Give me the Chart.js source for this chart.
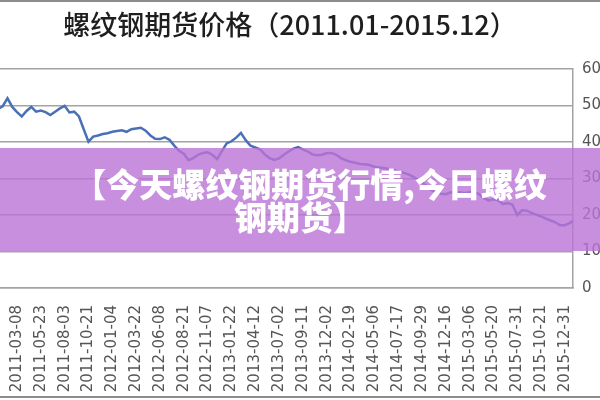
<!DOCTYPE html>
<html>
<head>
<meta charset="utf-8">
<script src="https://cdn.jsdelivr.net/npm/chart.js@4.4.1/dist/chart.umd.min.js"></script>
<style>
  html, body { margin: 0; padding: 0; background: #fff; }
  #wrap { width: 600px; height: 400px; }
</style>
</head>
<body>
<div id="wrap"><canvas id="priceChart" width="600" height="400"></canvas></div>
<script>
let chartTitle = '螺纹钢期货价格（2011.01-2015.12）';
let bannerLines = ['【今天螺纹钢期货行情,今日螺纹', '钢期货】'];

// date labels under the axis, one every ~50 trading days
let tickLabels = [
  '2011-03-08', '2011-05-23', '2011-08-03', '2011-10-21', '2012-01-04', '2012-03-22',
  '2012-06-08', '2012-08-21', '2012-11-07', '2013-01-22', '2013-04-12', '2013-07-02',
  '2013-09-11', '2013-12-02', '2014-02-19', '2014-05-06', '2014-07-17', '2014-09-29',
  '2014-12-16', '2015-03-06', '2015-05-20', '2015-07-31', '2015-10-21', '2015-12-31'
];
let daysPerTick = 50;

// closing price, one reading every ~10 trading days, starting 40 days before the first label
let daysPerPoint = 10;
let firstPointDay = -40;
let prices = [
  4900, 4980, 5200, 4960, 4820, 4700, 4850, 4960, 4830, 4860,
  4820, 4740, 4830, 4920, 4990, 4810, 4830, 4700, 4350, 4010,
  4150, 4180, 4220, 4240, 4280, 4300, 4320, 4280, 4350, 4370,
  4390, 4310, 4180, 4090, 4080, 4130, 4060, 3900, 3760, 3680,
  3500, 3560, 3650, 3700, 3720, 3650, 3530, 3750, 3960, 4020,
  4120, 4250, 4050, 3900, 3850, 3800, 3660, 3560, 3510, 3550,
  3650, 3740, 3820, 3860, 3800, 3740, 3660, 3640, 3650, 3690,
  3700, 3650, 3560, 3500, 3460, 3430, 3400, 3390, 3370, 3320,
  3300, 3290, 3260, 3240, 3200, 3160, 3120, 3060, 2980, 2900,
  2780, 2680, 2620, 2580, 2570, 2620, 2600, 2620, 2600, 2630,
  2620, 2570, 2460, 2400, 2430, 2400, 2300, 2330, 2280, 2000,
  2130, 2120, 2060, 2010, 1960, 1900, 1850, 1800, 1720, 1720,
  1780, 1860
];

let yMin = 0;
let yMax = 6000;
let yStep = 1000;

let canvas = document.querySelector('#priceChart');

let points = [];
for (let i = 0; i < prices.length; i++) {
  points.push({ x: firstPointDay + i * daysPerPoint, y: prices[i] });
}

// title, purple banner and frame lines
let decor = {
  id: 'decor',
  afterDraw(chart) {
    let ctx = chart.ctx;
    ctx.save();

    ctx.fillStyle = '#1e1e1e';
    ctx.font = '500 27px "Noto Sans CJK SC"';
    ctx.textAlign = 'center';
    ctx.textBaseline = 'middle';
    ctx.fillText(chartTitle, 290, 25);

    ctx.fillStyle = 'rgba(188, 115, 215, 0.8)';
    ctx.fillRect(0, 148, 600, 103);

    ctx.fillStyle = '#ffffff';
    ctx.font = '900 33px "Noto Sans CJK SC"';
    ctx.fillText(bannerLines[0], 310, 184);
    ctx.fillText(bannerLines[1], 300, 217);

    ctx.strokeStyle = '#8c8c8c';
    ctx.lineWidth = 2;
    ctx.beginPath();
    ctx.moveTo(0, 1);
    ctx.lineTo(600, 1);
    ctx.moveTo(0, 397);
    ctx.lineTo(600, 397);
    ctx.stroke();
    ctx.restore();
  }
};

let chart = new Chart(canvas, {
  type: 'line',
  data: {
    datasets: [{
      label: '螺纹钢期货',
      data: points,
      borderColor: '#4a70b5',
      borderWidth: 2.5,
      pointRadius: 0,
      tension: 0
    }]
  },
  options: {
    responsive: false,
    animation: false,
    layout: { padding: { top: 69, left: 0, right: 0, bottom: 0 } },
    plugins: {
      legend: { display: false },
      tooltip: { enabled: false },
      title: { display: false }
    },
    scales: {
      x: {
        type: 'linear',
        min: -35.7,
        max: 1167,
        afterBuildTicks: function (scale) {
          scale.ticks = tickLabels.map(function (t, i) { return { value: i * daysPerTick }; });
        },
        afterFit: function (scale) { scale.height = 112; },
        grid: { display: false },
        border: { display: true, color: '#a3a3a3', width: 1.5 },
        ticks: {
          autoSkip: false,
          minRotation: 90,
          maxRotation: 90,
          padding: 9,
          color: '#555555',
          font: { family: 'DejaVu Sans', size: 15 },
          callback: function (value) { return tickLabels[Math.round(value / daysPerTick)]; }
        }
      },
      y: {
        position: 'right',
        min: yMin,
        max: yMax,
        afterFit: function (scale) { scale.width = 27; },
        grid: { color: '#a3a3a3', lineWidth: 1.5, drawTicks: false },
        border: { display: true, color: '#a3a3a3', width: 1.5 },
        ticks: {
          stepSize: yStep,
          padding: 9,
          color: '#555555',
          font: { family: 'DejaVu Sans', size: 15 },
          callback: function (value) { return String(value); }
        }
      }
    }
  },
  plugins: [decor]
});
</script>
</body>
</html>
